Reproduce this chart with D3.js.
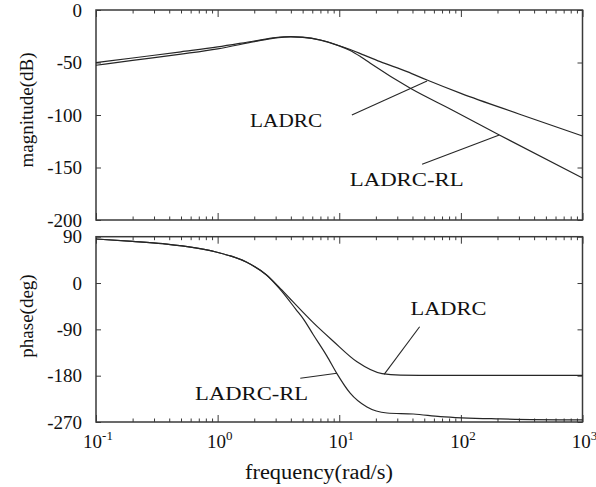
<!DOCTYPE html>
<html>
<head>
<meta charset="utf-8">
<script src="https://cdn.jsdelivr.net/npm/d3@7"></script>
<style>
  body { margin: 0; background: #fff; }
  svg { display: block; }
  .frame { fill: none; stroke: #3a3a3a; stroke-width: 1.5; }
  .curve { fill: none; stroke: #262626; stroke-width: 1.2; }
  .lead { fill: none; stroke: #262626; stroke-width: 1.1; }
  text { font-family: "Liberation Serif", "Times New Roman", serif; fill: #111; }
</style>
</head>
<body>
<div id="chart"></div>
<script>
// magnitude curves (rad/s, dB)
const ladrcMagW = [0.1, 0.2, 0.5, 1, 2, 3, 4, 5, 7, 10, 12.3, 16, 21.7, 36.1, 52.7, 100, 300, 1000];
const ladrcMag = [-50.2, -45.7, -39.8, -35.2, -29.5, -26.3, -25.4, -25.9, -28.6, -34, -37.6, -43, -49.2, -58.7, -66.7, -79.4, -99, -120];
const rlMagW = [0.1, 0.2, 0.5, 1, 2, 3, 4, 5, 7, 10, 12.3, 15, 18, 38.4, 84.7, 207, 1000];
const rlMag = [-52.6, -48, -42, -37, -30.2, -26.5, -25.5, -26, -28.7, -34.2, -38.5, -44.5, -50.8, -74.6, -95.2, -119, -160];

// phase curves (rad/s, deg)
const ladrcPhW = [0.1, 0.2, 0.354, 0.97, 1.72, 2.51, 3.2, 3.96, 5, 6.11, 8.93, 14, 22.5, 31.8, 60, 200, 1000];
const ladrcPh = [85.5, 81, 76.4, 60.3, 40.8, 16, -8, -31, -56, -77, -113, -153, -176, -179, -179.5, -179.5, -179.5];
const rlPhW = [0.1, 0.2, 0.354, 0.97, 1.72, 2.51, 3.2, 4.43, 5.08, 6.1, 7.92, 9.57, 12.3, 16.9, 24.7, 40.6, 67.8, 211, 1000];
const rlPh = [85.5, 81, 76.4, 60.3, 40.8, 16, -10, -52, -70, -100, -142, -176, -214, -241, -252.5, -254.5, -259.5, -264, -266];

const freqTicks = [0.1, 1, 10, 100, 1000];
const freqExp = ['-1', '0', '1', '2', '3'];
const magTicks = [0, -50, -100, -150, -200];
const phTicks = [90, 0, -90, -180, -270];

// annotations: [label, label w, label value, text width, leader from w, from v, to w, to v]
const magNotes = [
  ['LADRC', 1.85, -111.5, 72, 12.7, -100, 52.7, -67.6],
  ['LADRC-RL', 12.2, -167.5, 114, 48, -147, 207, -119]
];
const phNotes = [
  ['LADRC', 38.5, -62, 76, 45.8, -85, 23.4, -177.5],
  ['LADRC-RL', 0.653, -227, 113, 4.78, -185, 9.57, -175.4]
];

const W = 596, H = 487;
const left = 96, right = 582.5;
const topBox = { y0: 10, y1: 220 };
const botBox = { y0: 236.7, y1: 422 };

const svg = d3.select('#chart').append('svg')
  .attr('width', W)
  .attr('height', H);

const x = d3.scaleLog().domain([0.1, 1000]).range([left, right]);
const yMag = d3.scaleLinear().domain([-200, 0]).range([topBox.y1, topBox.y0]);
const yPh = d3.scaleLinear().domain([-270, 90]).range([botBox.y1, botBox.y0]);

const minor = [];
for (let d = 0.1; d < 1000; d *= 10) {
  for (let k = 2; k <= 9; k++) minor.push(d * k);
}

function panel(y, yTicks, box) {
  const g = svg.append('g');
  // y axis left, ticks inward
  g.append('g')
    .attr('transform', 'translate(' + left + ',0)')
    .call(d3.axisLeft(y).tickValues(yTicks).tickSize(-5).tickPadding(14).tickFormat(d => String(d)))
    .call(s => s.select('.domain').remove())
    .call(s => s.selectAll('line').attr('stroke', '#3a3a3a'))
    .call(s => s.selectAll('text').attr('font-size', 19).attr('fill', '#111'));
  // y axis right
  g.append('g')
    .attr('transform', 'translate(' + right + ',0)')
    .call(d3.axisRight(y).tickValues(yTicks).tickSize(-5).tickFormat(''))
    .call(s => s.select('.domain').remove())
    .call(s => s.selectAll('line').attr('stroke', '#3a3a3a'));
  // x ticks on top and bottom edge of the box
  [[box.y0, d3.axisTop], [box.y1, d3.axisBottom]].forEach(function (p) {
    g.append('g')
      .attr('transform', 'translate(0,' + p[0] + ')')
      .call(p[1](x).tickValues(freqTicks).tickSize(-7).tickFormat(''))
      .call(s => s.select('.domain').remove())
      .call(s => s.selectAll('line').attr('stroke', '#3a3a3a'));
    g.append('g')
      .attr('transform', 'translate(0,' + p[0] + ')')
      .call(p[1](x).tickValues(minor).tickSize(-3.5).tickFormat(''))
      .call(s => s.select('.domain').remove())
      .call(s => s.selectAll('line').attr('stroke', '#3a3a3a'));
  });
  g.append('rect')
    .attr('class', 'frame')
    .attr('x', left)
    .attr('y', box.y0)
    .attr('width', right - left)
    .attr('height', box.y1 - box.y0);
  return g;
}

panel(yMag, magTicks, topBox);
panel(yPh, phTicks, botBox);

function drawCurve(ws, vs, y) {
  const pts = ws.map((w, i) => [w, vs[i]]);
  svg.append('path')
    .datum(pts)
    .attr('class', 'curve')
    .attr('d', d3.line().x(d => x(d[0])).y(d => y(d[1])).curve(d3.curveMonotoneX));
}

drawCurve(ladrcMagW, ladrcMag, yMag);
drawCurve(rlMagW, rlMag, yMag);
drawCurve(ladrcPhW, ladrcPh, yPh);
drawCurve(rlPhW, rlPh, yPh);

function notes(list, y) {
  list.forEach(function (n) {
    svg.append('line')
      .attr('class', 'lead')
      .attr('x1', x(n[4])).attr('y1', y(n[5]))
      .attr('x2', x(n[6])).attr('y2', y(n[7]));
    svg.append('text')
      .attr('x', x(n[1]))
      .attr('y', y(n[2]))
      .attr('font-size', 19)
      .attr('textLength', n[3])
      .attr('lengthAdjust', 'spacingAndGlyphs')
      .text(n[0]);
  });
}
notes(magNotes, yMag);
notes(phNotes, yPh);

// frequency labels 10^k
const xl = svg.append('g');
freqTicks.forEach(function (f, i) {
  const t = xl.append('text')
    .attr('x', x(f) + 2)
    .attr('y', 448)
    .attr('font-size', 19)
    .attr('text-anchor', 'middle');
  t.append('tspan').text('10');
  t.append('tspan').attr('dy', -8).attr('font-size', 13).text(freqExp[i]);
});

svg.append('text')
  .attr('x', 319)
  .attr('y', 479)
  .attr('font-size', 20)
  .attr('text-anchor', 'middle')
  .attr('textLength', 148)
  .attr('lengthAdjust', 'spacingAndGlyphs')
  .text('frequency(rad/s)');

svg.append('text')
  .attr('transform', 'translate(33,110) rotate(-90)')
  .attr('font-size', 19)
  .attr('text-anchor', 'middle')
  .text('magnitude(dB)');

svg.append('text')
  .attr('transform', 'translate(33,316) rotate(-90)')
  .attr('font-size', 19)
  .attr('text-anchor', 'middle')
  .text('phase(deg)');
</script>
</body>
</html>
